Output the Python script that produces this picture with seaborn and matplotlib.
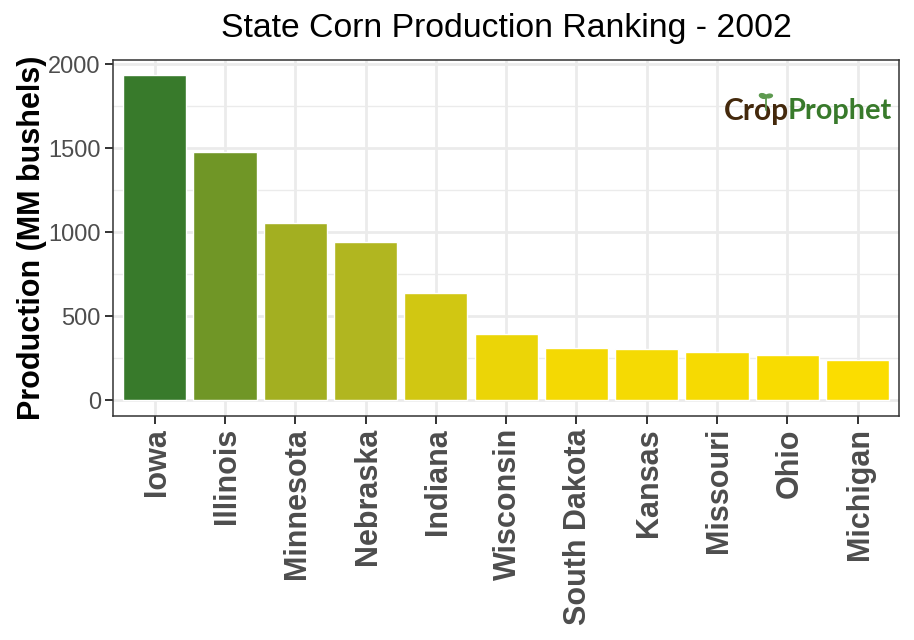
import matplotlib

matplotlib.use("Agg")

import matplotlib.pyplot as plt
import pandas as pd
import seaborn as sns
from matplotlib.colors import LinearSegmentedColormap, Normalize
from matplotlib.lines import Line2D
from matplotlib.patches import Ellipse
from matplotlib.transforms import ScaledTranslation

# Chart data
states = [
    "Iowa", "Illinois", "Minnesota", "Nebraska", "Indiana", "Wisconsin",
    "South Dakota", "Kansas", "Missouri", "Ohio", "Michigan",
]
production = [1935, 1475, 1055, 943, 635, 391, 308, 302, 284, 266, 236]
y_ticks = [0, 500, 1000, 1500, 2000]
y_minor_ticks = [250, 750, 1250, 1750]

# Configuration
LOW_COLOR = "#FBDD00"
MID_COLOR = "#B1B620"
HIGH_COLOR = "#387A2B"
GRID_COLOR = "#EBEBEB"
BROWN = "#44290C"

sns.set_theme(style="white")
plt.rcParams["font.family"] = ["Liberation Sans", "DejaVu Sans"]

df = pd.DataFrame({"state": states, "production": production})

# Fill runs from yellow to green with production
cmap = LinearSegmentedColormap.from_list(
    "corn", [(0, LOW_COLOR), (0.416, MID_COLOR), (1, HIGH_COLOR)]
)
norm = Normalize(min(production), max(production))
palette = [cmap(norm(v)) for v in production]

fig = plt.figure(figsize=(9.14, 6.4), dpi=100)
ax = fig.add_axes([113.3 / 914, 1 - 415.5 / 640, 785.7 / 914, 356 / 640])

sns.barplot(
    data=df,
    x="state",
    y="production",
    hue="state",
    palette=palette,
    legend=False,
    width=0.9,
    saturation=1,
    ax=ax,
    zorder=3,
)

ax.set_xlim(-0.59, 10.59)
ax.set_ylim(-92, 2028)
ax.set_yticks(y_ticks)
ax.set_yticks(y_minor_ticks, minor=True)

# Grid like a bw theme
ax.set_axisbelow(True)
ax.grid(True, which="major", color=GRID_COLOR, linewidth=2.0)
ax.grid(True, which="minor", axis="y", color=GRID_COLOR, linewidth=1.0)

for spine in ax.spines.values():
    spine.set_color("#333333")
    spine.set_linewidth(1.1)
    spine.set_zorder(5)

ax.tick_params(axis="y", which="major", length=6, width=1.4, color="#333333",
               labelsize=17, labelcolor="#4D4D4D", left=True, pad=3)
ax.tick_params(axis="y", which="minor", length=0)
ax.tick_params(axis="x", length=6, width=1.4, color="#333333", bottom=True, pad=3)
ax.set_xticks(range(len(states)))
ax.set_xticklabels(states, rotation=90, fontsize=22, fontweight="bold",
                   color="#4D4D4D", ha="center", va="top")

# Rotated labels sit a touch right of the ticks
nudge = ScaledTranslation(2 / 100, 0, fig.dpi_scale_trans)
for label in ax.get_xticklabels():
    label.set_transform(label.get_transform() + nudge)

ax.set_xlabel("")
ax.set_ylabel("Production (MM bushels)", fontsize=22, fontweight="bold",
              color="black", labelpad=1)
fig.text(506 / 914, 1 - 29 / 640, "State Corn Production Ranking - 2002",
         fontsize=24.3, ha="center", va="center", color="black")

# Logo, placed by hand over the panel
fig.text(724 / 914, 1 - 111 / 640, "Crop", fontsize=21.5, family="Lato",
         fontweight="bold", color=BROWN, ha="left", va="center", zorder=6)
fig.text(788 / 914, 1 - 111 / 640, "Prophet", fontsize=20.8, family="Lato",
         fontweight="bold", color="#387A2B", ha="left", va="center", zorder=6)
for cx, cy, w, h, ang in [(763, 96, 8, 4, -40), (769, 96, 7, 3.5, 20)]:
    fig.add_artist(Ellipse((cx / 914, 1 - cy / 640), w / 914, h / 640, angle=ang,
                           color="#5E9A50", zorder=7))
fig.add_artist(Line2D([766 / 914, 766 / 914], [1 - 98 / 640, 1 - 110 / 640],
                      color="#5E9A50", linewidth=1.3, zorder=7))

fig.savefig("out.png", dpi=100)
plt.close(fig)
